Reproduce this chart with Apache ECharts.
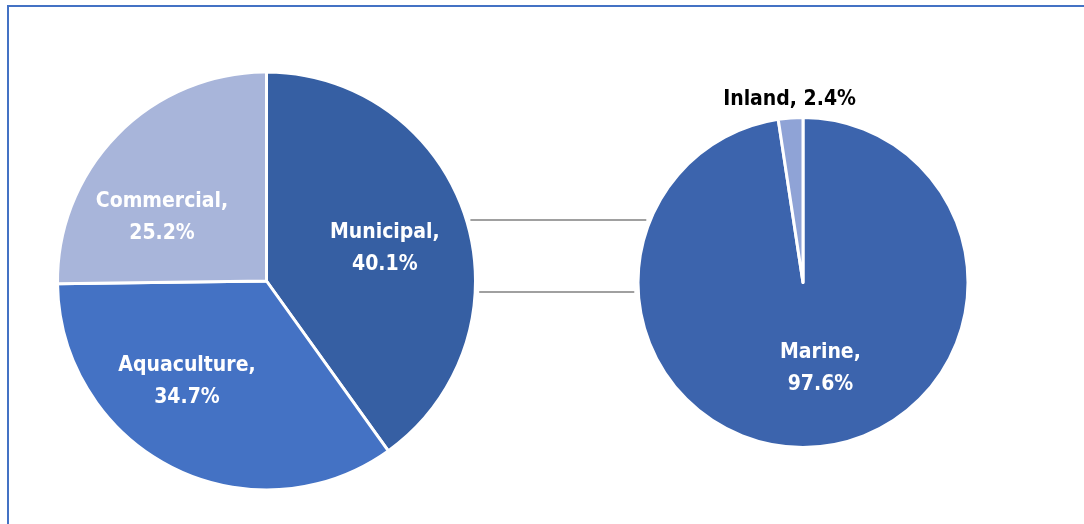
<!DOCTYPE html>
<html>
<head>
<meta charset="utf-8">
<script src="https://cdn.jsdelivr.net/npm/echarts@6/dist/echarts.min.js"></script>
<style>
html,body{margin:0;padding:0;background:#fff;}
#wrap{position:relative;width:1084px;height:524px;overflow:hidden;}
#frame{position:absolute;left:7px;top:5px;right:-10px;bottom:-10px;border-top:2px solid #4472C4;border-left:2px solid #4472C4;pointer-events:none;}
#chart{position:absolute;left:0;top:0;width:1084px;height:524px;}
</style>
</head>
<body>
<div id="wrap"><div id="chart"></div><div id="frame"></div></div>
<script>
// Data
const mainCategories = ['Municipal', 'Aquaculture', 'Commercial'];
const mainValues = [40.1, 34.7, 25.2];
const subCategories = ['Marine', 'Inland'];
const subValues = [97.6, 2.4];

// Styles / layout
const mainColors = ['#365FA3', '#4472C4', '#A8B5DA'];
const subColors = ['#3C64AD', '#8FA3D6'];
const mainCenter = [266.5, 281], mainR = 209;
const subCenter = [803, 282.5], subR = 165;
const mainLabelShift = [[16, 0], [-31, 5], [-28, 12]];
const subLabelShift = [[11, 1], [-7, -98]];
const connectorY = [220, 292];
const connectorGap = 4;

const font = '"Liberation Sans Narrow","Arial Narrow","DejaVu Sans Condensed",sans-serif';

function mk(cats, vals, colors) {
  return cats.map((c, i) => ({ name: c, value: vals[i], itemStyle: { color: colors[i] } }));
}

const subData = mk(subCategories, subValues, subColors);
subData[1].label = { color: '#000000' };

const lines = connectorY.map(y => {
  const x1 = mainCenter[0] + Math.sqrt(mainR * mainR - (y - mainCenter[1]) ** 2) + connectorGap;
  const x2 = subCenter[0] - Math.sqrt(subR * subR - (y - subCenter[1]) ** 2) - connectorGap;
  return { type: 'line', shape: { x1: x1, y1: y, x2: x2, y2: y }, style: { stroke: '#808080', lineWidth: 1.5 }, silent: true };
});

const labelBase = {
  show: true, position: 'inside', color: '#ffffff', fontFamily: font, fontWeight: 'bold',
  fontSize: 21, lineHeight: 32, align: 'center',
  formatter: p => p.name + (p.seriesIndex === 1 && p.dataIndex === 1 ? ', ' : ',\n') + p.value.toFixed(1) + '%'
};

const chart = echarts.init(document.getElementById('chart'), null, { renderer: 'canvas' });
chart.setOption({
  animation: false,
  backgroundColor: '#ffffff',
  graphic: lines,
  series: [
    {
      type: 'pie', center: mainCenter, radius: [0, mainR], startAngle: 90, clockwise: true,
      data: mk(mainCategories, mainValues, mainColors),
      itemStyle: { borderColor: '#ffffff', borderWidth: 3 },
      label: labelBase, labelLine: { show: false },
      labelLayout: p => ({ dx: mainLabelShift[p.dataIndex][0], dy: mainLabelShift[p.dataIndex][1] }),
      emphasis: { disabled: true }, silent: true
    },
    {
      type: 'pie', center: subCenter, radius: [0, subR], startAngle: 90, clockwise: true,
      data: subData,
      itemStyle: { borderColor: '#ffffff', borderWidth: 3 },
      label: labelBase, labelLine: { show: false },
      labelLayout: p => ({ dx: subLabelShift[p.dataIndex][0], dy: subLabelShift[p.dataIndex][1] }),
      emphasis: { disabled: true }, silent: true
    }
  ]
});
</script>
</body>
</html>
